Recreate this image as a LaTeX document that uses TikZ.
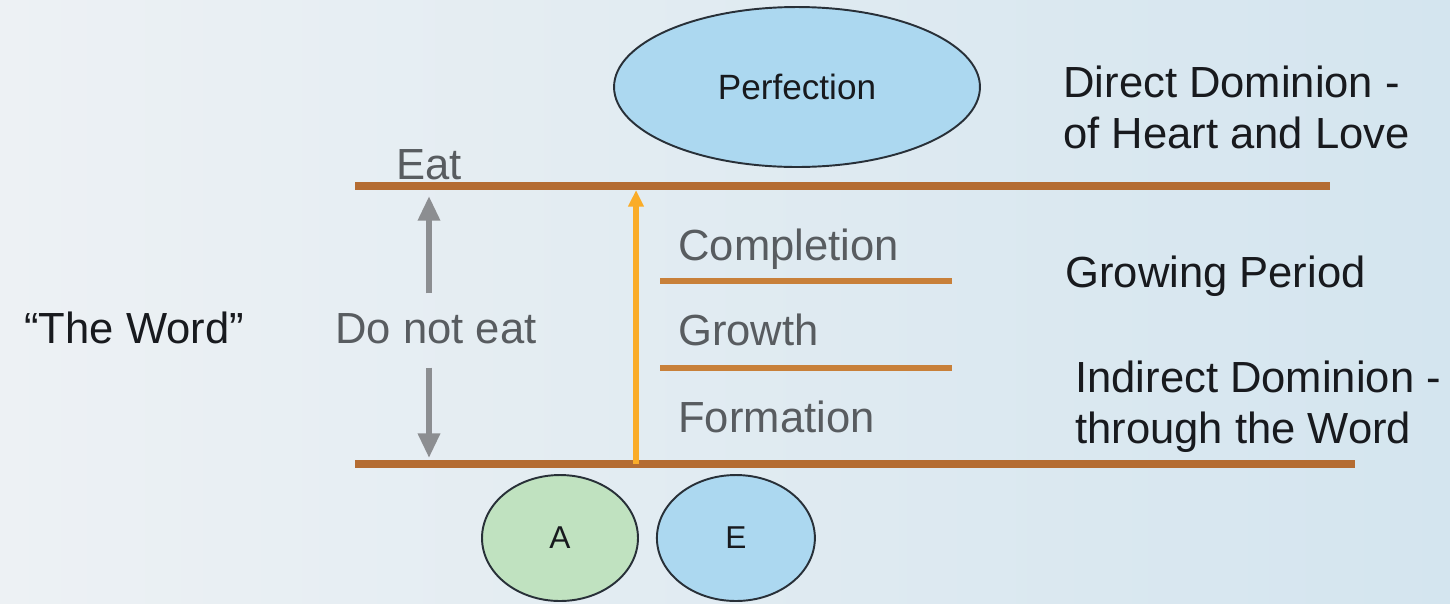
\documentclass[tikz,border=0pt]{standalone}
\usepackage{fontspec}
\setmainfont{Liberation Sans}
\usetikzlibrary{positioning, arrows.meta, shapes.geometric}

\definecolor{bgleft}{RGB}{237,241,244}
\definecolor{bgright}{RGB}{212,229,239}
\definecolor{copper}{RGB}{180,108,50}
\definecolor{stageline}{RGB}{200,128,58}
\definecolor{goldarrow}{RGB}{250,172,40}
\definecolor{greyarrow}{RGB}{140,142,145}
\definecolor{greytext}{RGB}{88,92,96}
\definecolor{darktext}{RGB}{24,26,30}
\definecolor{skyfill}{RGB}{172,216,240}
\definecolor{leaffill}{RGB}{192,226,192}
\definecolor{rimline}{RGB}{40,48,56}

\tikzset{
  level/.style={copper, line width=4pt},
  stage/.style={stageline, line width=3.2pt},
  bigtext/.style={font=\fontsize{24.8}{28.5}\selectfont, inner sep=0pt},
  note/.style={bigtext, text=darktext, align=left},
  dimtext/.style={bigtext, text=greytext},
  being/.style={ellipse, draw=rimline, line width=1.1pt, inner sep=0pt,
    font=\fontsize{18}{20}\selectfont, text=darktext},
  forbid/.style={greyarrow, line width=3.4pt, -{Triangle[length=14pt,width=12pt]}},
  rise/.style={goldarrow, line width=3.1pt, -{Triangle[length=9.5pt,width=8.5pt]}}
}

\begin{document}
\begin{tikzpicture}[x=0.02cm, y=-0.02cm]
    % Background
    \shade[left color=bgleft, right color=bgright] (0,0) rectangle (1450,603);
    \useasboundingbox (0,0) rectangle (1450,603);

    % Level lines
    \coordinate (topL) at (355,186);
    \coordinate (topR) at (1330,186);
    \coordinate (botL) at (355,464);
    \coordinate (botR) at (1355,464);
    \draw[level] (topL) -- (topR);
    \draw[level] (botL) -- (botR);

    % Perfection above, A and E below
    \node[being, fill=skyfill, minimum width=7.32cm, minimum height=3.2cm,
      font=\fontsize{20}{22}\selectfont] (perfection) at (797,87) {Perfection};
    \node[being, fill=leaffill, minimum width=3.12cm, minimum height=2.52cm] (adam) at (560,538) {A};
    \node[being, fill=skyfill, minimum width=3.16cm, minimum height=2.52cm, right=0.34cm of adam] (eve) {E};

    % Growing stages
    \coordinate (stageA) at (660,281);
    \coordinate (stageB) at (660,368);
    \draw[stage] (stageA) -- ++(292,0);
    \draw[stage] (stageB) -- ++(292,0);
    \node[dimtext, anchor=base west] (completion) at (678,260) {Completion};
    \node[dimtext, anchor=base west] (growth) at (678,345) {Growth};
    \node[dimtext, anchor=base west] (formation) at (678,432) {Formation};

    % Growth arrow
    \coordinate (riseA) at (636,464);
    \coordinate (riseB) at (riseA |- topL);
    \draw[rise, shorten >=2.3pt] (riseA) -- (riseB);

    % Commandment
    \node[dimtext, anchor=base] (noeat) at (436,343) {Do not eat};
    \node[dimtext, anchor=base] (eat) at (429,179) {Eat};
    \coordinate (cmdN) at (eat.south |- noeat.north);
    \coordinate (cmdS) at (eat.south |- noeat.south);
    \coordinate (cmdT) at (eat.south |- topL);
    \coordinate (cmdB) at (eat.south |- botL);
    \draw[forbid, shorten <=11pt, shorten >=5.7pt] (cmdN) -- (cmdT);
    \draw[forbid, shorten <=13.6pt, shorten >=3.4pt] (cmdS) -- (cmdB);

    % Left and right texts
    \node[note, anchor=base west] (word) at (24,343) {``The Word''};
    \node[note, anchor=north west] (direct) at (1063,66) {Direct Dominion -\\of Heart and Love};
    \node[note, anchor=base west] (growing) at (1065,287) {Growing Period};
    \node[note, anchor=north west] (indirect) at (1075,361) {Indirect Dominion -\\through the Word};

  \end{tikzpicture}
\end{document}
